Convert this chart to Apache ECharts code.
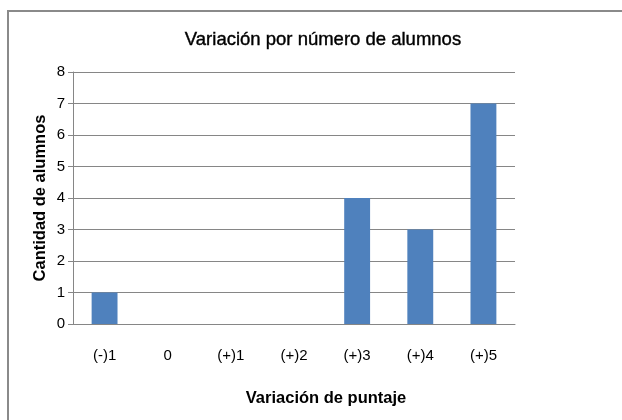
<!DOCTYPE html>
<html><head><meta charset="utf-8">
<script src="https://cdn.jsdelivr.net/npm/echarts@6/dist/echarts.min.js"></script>
<style>html,body{margin:0;padding:0;background:#fff}#c{width:622px;height:420px}</style>
</head><body><div id="c"></div>
<script>
const categories = ['(-)1','0','(+)1','(+)2','(+)3','(+)4','(+)5'];
const values = [1,0,0,0,4,3,7];
const yTicks = [0,1,2,3,4,5,6,7,8];
const chart = echarts.init(document.getElementById('c'));
chart.setOption({
  animation:false,
  graphic:[
    {type:'polyline',shape:{points:[[8,420],[8,11],[622,11]]},style:{fill:null,stroke:'#8a8a8a',lineWidth:2}}
  ],
  title:[
    {text:'Variación por número de alumnos',left:318,top:25,textAlign:'center',
      textStyle:{fontFamily:'Arial',fontSize:18.5,fontWeight:'normal',color:'#000',textBorderColor:'#000',textBorderWidth:0.4}},
    {text:'Variación de puntaje',left:321,top:385,textAlign:'center',
      textStyle:{fontFamily:'Arial',fontWeight:'bold',fontSize:16.5,color:'#000'}}
  ],
  grid:{left:73,right:107,top:72,bottom:96},
  xAxis:{type:'category',data:categories,
    axisLine:{lineStyle:{color:'#868686'}},axisTick:{show:false},
    axisLabel:{margin:24,fontFamily:'Arial',fontSize:15,color:'#000'}},
  yAxis:{type:'value',min:0,max:8,interval:1,
    name:'Cantidad de alumnos',nameLocation:'middle',nameGap:24,nameRotate:90,nameMoveOverlap:false,
    nameTextStyle:{fontFamily:'Arial',fontWeight:'bold',fontSize:16.5,color:'#000'},
    axisLine:{show:true,lineStyle:{color:'#868686'}},
    axisTick:{show:true,length:5,lineStyle:{color:'#868686'}},
    splitLine:{lineStyle:{color:'#868686'}},
    axisLabel:{margin:8,fontFamily:'Arial',fontSize:15,color:'#000',
      formatter:v=>yTicks.includes(v)?String(v):''}},
  series:[{type:'bar',data:values,barWidth:'41%',itemStyle:{color:'#4F81BD'}}]
});
</script></body></html>
